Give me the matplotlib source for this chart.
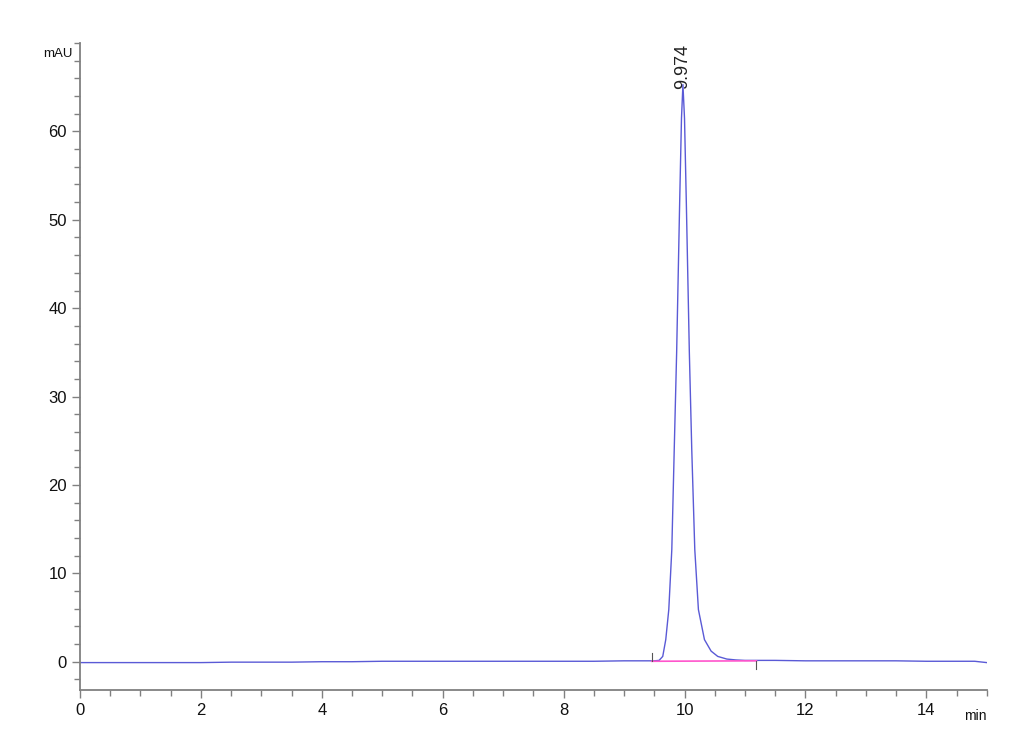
import numpy as np
import matplotlib
matplotlib.use("Agg")
import matplotlib.pyplot as plt
from matplotlib.ticker import MultipleLocator

plt.rcParams['font.family'] = ['Liberation Sans', 'DejaVu Sans']

# chromatogram signal (min, mAU)
czas = [0.0, 0.5, 1.0, 1.5, 2.0, 2.5, 3.0, 3.5, 4.0, 4.5, 5.0, 5.5, 6.0, 6.5,
        7.0, 7.5, 8.0, 8.5, 9.0, 9.3, 9.5, 9.58, 9.64, 9.69, 9.74, 9.79, 9.83,
        9.87, 9.92, 9.95, 9.974, 10.0, 10.03, 10.08, 10.12, 10.17, 10.23,
        10.33, 10.44, 10.55, 10.7, 10.85, 11.0, 11.2, 11.5, 12.0, 12.5, 13.0,
        13.5, 14.0, 14.5, 14.8, 15.0]
sygnal = [-0.1, -0.1, -0.1, -0.1, -0.1, -0.05, -0.05, -0.05, 0.0, 0.0, 0.05,
          0.05, 0.05, 0.05, 0.05, 0.05, 0.05, 0.05, 0.1, 0.1, 0.1, 0.15, 0.6,
          2.5, 5.9, 12.7, 24.0, 35.0, 52.0, 61.5, 65.3, 61.5, 52.0, 35.0, 24.0,
          12.7, 5.9, 2.5, 1.2, 0.6, 0.3, 0.2, 0.15, 0.15, 0.15, 0.1, 0.1, 0.1,
          0.1, 0.05, 0.05, 0.05, -0.1]

# integration baseline
bl_start, bl_end = 9.46, 11.19
bl_y = [0.05, 0.1]
t_peak, h_peak = 9.974, 65.3

fig = plt.figure(figsize=(10.3, 7.55), dpi=100)
ax = fig.add_axes([0.0777, 0.0861, 0.8803, 0.8569])

ax.plot(czas, sygnal, color='#5a5ad6', linewidth=1.0)
ax.plot([bl_start, bl_end], bl_y, color='#ff55cc', linewidth=1.2)
ax.plot([bl_start, bl_start], [bl_y[0], bl_y[0] + 0.9], color='#555555', linewidth=0.8)
ax.plot([bl_end, bl_end], [bl_y[1], bl_y[1] - 0.9], color='#555555', linewidth=0.8)

ax.annotate(f"{t_peak:.3f}", xy=(t_peak, h_peak), xytext=(0, -3), textcoords='offset points',
            rotation=90, ha='center', va='bottom', fontsize=13, color='#222222')

ax.set_xlim(0, 15)
ax.set_ylim(-3.2, 70)
ax.xaxis.set_major_locator(MultipleLocator(2))
ax.xaxis.set_minor_locator(MultipleLocator(0.5))
ax.set_yticks(range(0, 61, 10))
ax.yaxis.set_minor_locator(MultipleLocator(2))

for s in ['top', 'right']:
    ax.spines[s].set_visible(False)
for s in ['left', 'bottom']:
    ax.spines[s].set_color('#808080')
    ax.spines[s].set_linewidth(1.3)

ax.tick_params(which='major', length=6, width=1, color='#808080', labelsize=12, labelcolor='#111111')
ax.tick_params(which='minor', length=4, width=1, color='#808080')

fig.text(0.070, 0.928, 'mAU', ha='right', va='center', fontsize=9.5, color='#111111')
fig.text(0.958, 0.052, 'min', ha='right', va='center', fontsize=10, color='#111111')

fig.savefig('out.png', dpi=100)
